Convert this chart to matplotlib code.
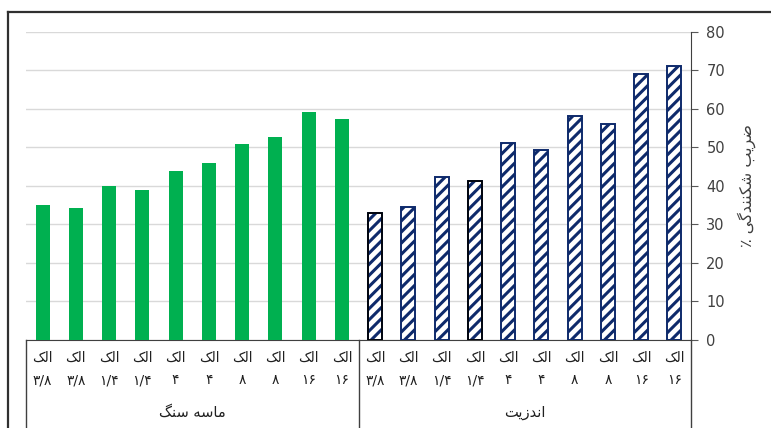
import matplotlib
matplotlib.use("Agg")
import matplotlib.pyplot as plt
import matplotlib.transforms as mtransforms
import numpy as np

# data
sandstone = [35.0, 34.2, 40.0, 38.9, 43.8, 45.9, 50.8, 52.7, 59.0, 57.3]
andesite = [32.9, 34.5, 42.2, 41.3, 51.0, 49.4, 58.0, 56.1, 69.0, 71.0]
sieve_sizes = ["۳/۸", "۳/۸", "۱/۴", "۱/۴", "۴", "۴", "۸", "۸", "۱۶", "۱۶"]
sieve_word = "الک"
groups = ["ماسه سنگ", "اندزیت"]
y_title = "ضریب شکنندگی ٪"
yticks = [0, 10, 20, 30, 40, 50, 60, 70, 80]

# minimal persian shaping (matplotlib has no bidi/shaping)
FORMS = {
    "ا": ("\uFE8D", "\uFE8E", None, None),
    "ب": ("\uFE8F", "\uFE90", "\uFE91", "\uFE92"),
    "ت": ("\uFE95", "\uFE96", "\uFE97", "\uFE98"),
    "د": ("\uFEA9", "\uFEAA", None, None),
    "ر": ("\uFEAD", "\uFEAE", None, None),
    "ز": ("\uFEAF", "\uFEB0", None, None),
    "س": ("\uFEB1", "\uFEB2", "\uFEB3", "\uFEB4"),
    "ش": ("\uFEB5", "\uFEB6", "\uFEB7", "\uFEB8"),
    "ض": ("\uFEBD", "\uFEBE", "\uFEBF", "\uFEC0"),
    "ل": ("\uFEDD", "\uFEDE", "\uFEDF", "\uFEE0"),
    "م": ("\uFEE1", "\uFEE2", "\uFEE3", "\uFEE4"),
    "ن": ("\uFEE5", "\uFEE6", "\uFEE7", "\uFEE8"),
    "ه": ("\uFEE9", "\uFEEA", "\uFEEB", "\uFEEC"),
    "ک": ("\uFB8E", "\uFB8F", "\uFB90", "\uFB91"),
    "گ": ("\uFB92", "\uFB93", "\uFB94", "\uFB95"),
    "ی": ("\uFBFC", "\uFBFD", "\uFBFE", "\uFBFF"),
}


def shape(s):
    out = []
    for i, c in enumerate(s):
        if c not in FORMS:
            out.append(c)
            continue
        prev = s[i - 1] if i > 0 else ""
        nxt = s[i + 1] if i + 1 < len(s) else ""
        join_prev = prev in FORMS and FORMS[prev][2] is not None
        join_next = nxt in FORMS and FORMS[c][2] is not None
        iso, fin, ini, med = FORMS[c]
        if join_prev and join_next:
            out.append(med)
        elif join_prev:
            out.append(fin)
        elif join_next:
            out.append(ini)
        else:
            out.append(iso)
    return "".join(reversed(out))


plt.rcParams['font.family'] = ['DejaVu Sans', 'Noto Sans']
plt.rcParams['hatch.linewidth'] = 2.2

fig = plt.figure(figsize=(7.71, 4.28), dpi=100)
ax = fig.add_axes([0.0337, 0.2056, 0.8626, 0.7208])

navy = "#0E2A6B"
x1 = np.arange(10)
x2 = np.arange(10, 20)
ax.bar(x1, sandstone, width=0.42, color="#00B050", zorder=3)
ax.bar(x2, andesite, width=0.42, color="white", edgecolor=navy,
       hatch="///", linewidth=1.4, zorder=3)
# two bars have a black outline in the source
ax.bar([x2[0], x2[3]], [andesite[0], andesite[3]], width=0.42,
       facecolor="none", edgecolor="black", linewidth=1.2, zorder=4)

ax.set_xlim(-0.5, 19.5)
ax.set_ylim(0, 80)
ax.set_yticks(yticks)
ax.yaxis.tick_right()
ax.yaxis.set_label_position("right")
ax.tick_params(axis="y", direction="out", length=5, width=0.8,
               color="#595959", labelsize=10.5, labelcolor="#404040", pad=6)
ax.set_xticks([])
ax.grid(axis="y", color="#D9D9D9", linewidth=1, zorder=0)
for side in ["left", "top"]:
    ax.spines[side].set_visible(False)
ax.spines["right"].set_color("#404040")
ax.spines["bottom"].set_color("#404040")

ax.set_ylabel(shape(y_title), rotation=90, fontsize=11.5, color="#404040",
              labelpad=9)

# category table under the axis
trans = mtransforms.blended_transform_factory(ax.transData, fig.transFigure)
for xb in [-0.5, 9.5, 19.5]:
    ax.plot([xb, xb], [0.2056, 0.0], transform=trans, color="#404040",
            linewidth=1, clip_on=False)
for i in range(20):
    ax.text(i, 1 - 358 / 428, shape(sieve_word), transform=trans,
            ha="center", va="center", fontsize=10, color="#202020")
    ax.text(i, 1 - 380 / 428, sieve_sizes[i % 10], transform=trans,
            ha="center", va="center", fontsize=10, color="#202020")
for g, xc in zip(groups, [4.5, 14.5]):
    ax.text(xc, 1 - 412 / 428, shape(g), transform=trans,
            ha="center", va="center", fontsize=10.5, color="#202020")

# outer frame of the original chart area
fig.add_artist(plt.Line2D([8 / 771, 8 / 771], [0, 1 - 12 / 428],
                          color="#303030", linewidth=1.6))
fig.add_artist(plt.Line2D([8 / 771, 1], [1 - 12 / 428, 1 - 12 / 428],
                          color="#303030", linewidth=1.6))

fig.savefig("out.png", dpi=100)
